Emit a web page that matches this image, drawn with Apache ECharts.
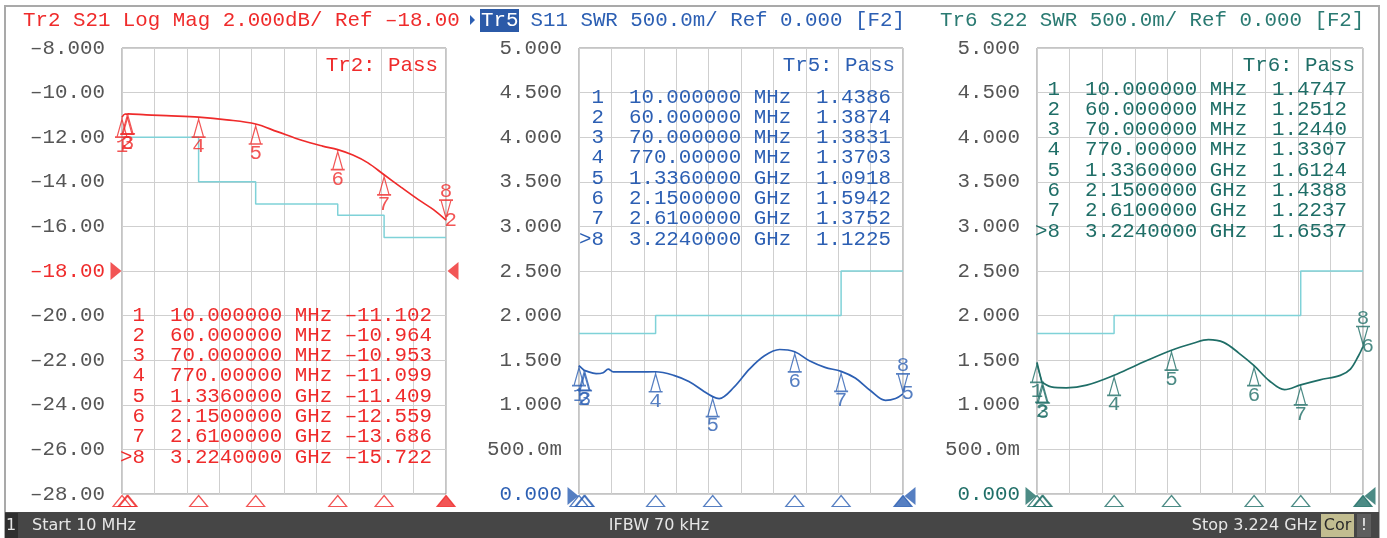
<!DOCTYPE html>
<html><head><meta charset="utf-8">
<script src="https://cdn.jsdelivr.net/npm/echarts@6/dist/echarts.min.js"></script>
<style>html,body{margin:0;padding:0;background:#fff;}#c{width:1387px;height:538px;}</style>
</head><body><div id="c"></div>
<script>
// ---------- DATA ----------
const FREQ_START = 10, FREQ_STOP = 3224; // MHz
const markerFreqs = [10, 60, 70, 770, 1336, 2150, 2610, 3224];
const s21MarkerVals = [-11.102, -10.964, -10.953, -11.099, -11.409, -12.559, -13.686, -15.722];
const s11MarkerVals = [1.4386, 1.3874, 1.3831, 1.3703, 1.0918, 1.5942, 1.3752, 1.1225];
const s22MarkerVals = [1.4747, 1.2512, 1.2440, 1.3307, 1.6124, 1.4388, 1.2237, 1.6537];

const s21Freqs = [10, 40, 60, 70, 250, 500, 770, 1050, 1336, 1550, 1800, 2000, 2150, 2300, 2450, 2610, 2780, 2950, 3100, 3224];
const s21Vals  = [-11.10, -10.96, -10.964, -10.953, -11.00, -11.04, -11.099, -11.22, -11.409, -11.75, -12.15, -12.40, -12.559, -12.80, -13.15, -13.686, -14.25, -14.80, -15.25, -15.722];

const s11Freqs = [10, 60, 70, 180, 250, 300, 350, 600, 770, 950, 1100, 1250, 1336, 1400, 1550, 1700, 1850, 2000, 2150, 2300, 2450, 2610, 2750, 2900, 3050, 3150, 3224];
const s11Vals  = [1.4386, 1.3874, 1.3831, 1.35, 1.36, 1.40, 1.37, 1.37, 1.3703, 1.33, 1.26, 1.15, 1.0918, 1.07, 1.20, 1.40, 1.55, 1.62, 1.5942, 1.49, 1.42, 1.3752, 1.30, 1.16, 1.05, 1.07, 1.1225];

const s22Freqs = [10, 60, 70, 150, 300, 500, 770, 1000, 1336, 1550, 1700, 1850, 2000, 2150, 2300, 2450, 2610, 2800, 3000, 3100, 3180, 3224];
const s22Vals  = [1.4747, 1.2512, 1.2440, 1.20, 1.19, 1.22, 1.3307, 1.45, 1.6124, 1.69, 1.73, 1.70, 1.58, 1.4388, 1.27, 1.17, 1.2237, 1.28, 1.33, 1.40, 1.55, 1.6537];

// limit lines: edges (MHz) and level between successive edges
const s21LimitEdges = [10, 770, 1336, 2150, 2610, 3224];
const s21LimitVals  = [-12, -14, -15, -15.5, -16.5];
const swrLimitEdges = [10, 770, 2610, 3224];
const swrLimitVals  = [1.8, 2.0, 2.5];

// tick labels (bottom to top)
const s21TickLabels = ['–28.00','–26.00','–24.00','–22.00','–20.00','–18.00','–16.00','–14.00','–12.00','–10.00','–8.000'];
const swrTickLabels = ['0.000','500.0m','1.000','1.500','2.000','2.500','3.000','3.500','4.000','4.500','5.000'];

const titles = ['Tr2 S21 Log Mag 2.000dB/ Ref –18.00', 'Tr5', ' S11 SWR 500.0m/ Ref 0.000 [F2]', 'Tr6 S22 SWR 500.0m/ Ref 0.000 [F2]'];
const passTexts = ['Tr2: Pass', 'Tr5: Pass', 'Tr6: Pass'];
const extraRightLabels = ['2', '5', '6'];
const statusTexts = ['1', 'Start 10 MHz', 'IFBW 70 kHz', 'Stop 3.224 GHz', 'Cor', '!'];

// ---------- LAYOUT / STYLE ----------
const RED = '#ef2b2b', BLUE = '#2c5fb3', TEAL = '#1f6e67', LIMIT = '#7fd2d8';
const FONT = '"Liberation Mono", "DejaVu Sans Mono", monospace';
const FS = 20.8;
const panels = [
  {left:122, width:324, color:RED, freqs:s21Freqs, vals:s21Vals, mvals:s21MarkerVals, edges:s21LimitEdges, lvals:s21LimitVals,
   min:-28, max:-8, interval:2, ticks:s21TickLabels, ref:-18, tableLeft:120, tableTop:315, valFmt:v=>(v<0?'–':' ')+Math.abs(v).toFixed(3)},
  {left:579, width:324, color:BLUE, freqs:s11Freqs, vals:s11Vals, mvals:s11MarkerVals, edges:swrLimitEdges, lvals:swrLimitVals,
   min:0, max:5, interval:0.5, ticks:swrTickLabels, ref:0, tableLeft:579, tableTop:97, valFmt:v=>' '+v.toFixed(4)},
  {left:1037, width:326, color:TEAL, freqs:s22Freqs, vals:s22Vals, mvals:s22MarkerVals, edges:swrLimitEdges, lvals:swrLimitVals,
   min:0, max:5, interval:0.5, ticks:swrTickLabels, ref:0, tableLeft:1035, tableTop:89, valFmt:v=>' '+v.toFixed(4)}
];
const TOP = 48, HEIGHT = 446;

function fmtFreq(f){ return f < 1000 ? f.toPrecision(8) + ' MHz' : (f/1000).toPrecision(8) + ' GHz'; }

const UP_TRI = 'path://M7,0 L7,4 M7,2 L12,19 L2,19 Z M0,19 L14,19';
const DOWN_TRI = 'path://M0,0 L14,0 M2,0 L12,0 L7,17 Z M7,15 L7,19';
const BOT_TRI = 'path://M9,0 L18,11 L0,11 Z';
const REF_R = 'path://M0,0 L11,9 L0,18 Z';
const REF_L = 'path://M11,0 L0,9 L11,18 Z';

const grid = [], xAxis = [], yAxis = [], series = [], graphic = [];

panels.forEach((p, i) => {
  grid.push({left:p.left, top:TOP, width:p.width, height:HEIGHT, show:true, borderColor:'#8a8a8a', borderWidth:1, backgroundColor:'#fff', containLabel:false});
  xAxis.push({gridIndex:i, type:'value', min:FREQ_START, max:FREQ_STOP, show:false});
  xAxis.push({gridIndex:i, type:'value', min:0, max:10, interval:1, axisLine:{show:false}, axisTick:{show:false}, axisLabel:{show:false},
    splitLine:{show:true, lineStyle:{color:'#cfcfcf', width:1}}});
  yAxis.push({gridIndex:i, type:'value', min:p.min, max:p.max, interval:p.interval,
    axisLine:{show:false}, axisTick:{show:false},
    splitLine:{show:true, lineStyle:{color:'#cfcfcf', width:1}},
    axisLabel:{margin:17, fontFamily:FONT, fontSize:FS,
      formatter:(v)=>p.ticks[Math.round((v - p.min)/p.interval)],
      color:(v)=> Math.abs(v - p.ref) < 1e-9 ? p.color : '#555555'}});
  const xi = 2*i;
  const lim = [];
  for (let k = 0; k < p.lvals.length; k++){ lim.push([p.edges[k], p.lvals[k]]); lim.push([p.edges[k+1], p.lvals[k]]); }
  series.push({type:'line', xAxisIndex:xi, yAxisIndex:i, data:lim, symbol:'none', silent:true, z:2,
    lineStyle:{color:LIMIT, width:1.5}});
  series.push({type:'line', xAxisIndex:xi, yAxisIndex:i, data:p.freqs.map((f,k)=>[f, p.vals[k]]), symbol:'none', smooth:0.35, silent:true, z:3,
    lineStyle:{color:p.color, width:1.7}});
  series.push({type:'scatter', xAxisIndex:xi, yAxisIndex:i, clip:false, silent:true, z:5,
    data:markerFreqs.slice(0,7).map((f,k)=>({value:[f, p.mvals[k]], lab:String(k+1)})),
    symbol:UP_TRI, symbolSize:[14,20], symbolOffset:[0,'50%'],
    itemStyle:{color:'rgba(0,0,0,0)', borderColor:p.color, borderWidth:1.4},
    label:{show:true, position:'bottom', distance:-2, formatter:(d)=>d.data.lab, color:p.color, fontFamily:FONT, fontSize:FS}});
  series.push({type:'scatter', xAxisIndex:xi, yAxisIndex:i, clip:false, silent:true, z:5,
    data:[{value:[markerFreqs[7], p.mvals[7]], lab:'8'}],
    symbol:DOWN_TRI, symbolSize:[14,20], symbolOffset:[0,'-50%'],
    itemStyle:{color:'rgba(0,0,0,0)', borderColor:p.color, borderWidth:1.4},
    label:{show:true, position:'top', distance:-3, formatter:(d)=>d.data.lab, color:p.color, fontFamily:FONT, fontSize:FS}});
  series.push({type:'scatter', xAxisIndex:xi, yAxisIndex:i, clip:false, silent:true, z:5,
    data:[{value:[markerFreqs[7], p.mvals[7]], lab:extraRightLabels[i]}], symbol:'rect', symbolSize:[1,1],
    itemStyle:{color:'rgba(0,0,0,0)'},
    label:{show:true, position:'right', distance:-2, formatter:(d)=>d.data.lab, color:p.color, fontFamily:FONT, fontSize:FS}});
  series.push({type:'scatter', xAxisIndex:xi, yAxisIndex:i, clip:false, silent:true, z:5,
    data:markerFreqs.map((f,k)=>({value:[f, p.min], itemStyle: k===7 ? {color:p.color} : undefined})),
    symbol:BOT_TRI, symbolSize:[18,11], symbolOffset:[0,7],
    itemStyle:{color:'rgba(0,0,0,0)', borderColor:p.color, borderWidth:1.2}});
  series.push({type:'scatter', xAxisIndex:xi, yAxisIndex:i, clip:false, silent:true, z:5,
    data:[{value:[FREQ_START, p.ref], symbol:REF_R, symbolOffset:[-6, i===0?0:2]},
          {value:[FREQ_STOP, p.ref], symbol:REF_L, symbolOffset:[7, i===0?0:2]}],
    symbolSize:[11,18], itemStyle:{color:p.color}});
  markerFreqs.forEach((f,k)=>{
    const num = k===7 ? '>8' : ' ' + (k+1);
    const line = num + '  ' + fmtFreq(f) + ' ' + p.valFmt(p.mvals[k]);
    graphic.push({type:'text', z:50, silent:true, style:{text:line, x:p.tableLeft, y:p.tableTop + k*20.3, font:FS+'px '+FONT, fill:p.color, verticalAlign:'middle', align:'left'}});
  });
  graphic.push({type:'text', z:50, silent:true, style:{text:passTexts[i], x:p.left + p.width - 8, y:65, font:FS+'px '+FONT, fill:p.color, verticalAlign:'middle', align:'right'}});
});

graphic.push({type:'text', z:50, style:{text:titles[0], x:23, y:20, font:FS+'px '+FONT, fill:RED, verticalAlign:'middle'}});
graphic.push({type:'polygon', z:50, shape:{points:[[470,15],[475,20],[470,25]]}, style:{fill:BLUE}});
graphic.push({type:'rect', z:49, shape:{x:480, y:9, width:39, height:23}, style:{fill:'#2b5aa8'}});
graphic.push({type:'text', z:50, style:{text:titles[1], x:481, y:20, font:FS+'px '+FONT, fill:'#fff', verticalAlign:'middle'}});
graphic.push({type:'text', z:50, style:{text:titles[2], x:518, y:20, font:FS+'px '+FONT, fill:BLUE, verticalAlign:'middle'}});
graphic.push({type:'text', z:50, style:{text:titles[3], x:940, y:20, font:FS+'px '+FONT, fill:'#2a7a72', verticalAlign:'middle'}});

graphic.push({type:'rect', z:1, shape:{x:5, y:6, width:1374, height:531}, style:{fill:'none', stroke:'#a9a9a9', lineWidth:2}});
graphic.push({type:'rect', z:60, shape:{x:5, y:512, width:1374, height:26}, style:{fill:'#464646'}});
graphic.push({type:'rect', z:61, shape:{x:5, y:513, width:13, height:25}, style:{fill:'#2f2f2f'}});
const SF = '16px "DejaVu Sans", "Noto Sans", sans-serif';
graphic.push({type:'text', z:62, style:{text:statusTexts[0], x:11, y:526, font:SF, fill:'#e6e6e6', align:'center', verticalAlign:'middle'}});
graphic.push({type:'text', z:62, style:{text:statusTexts[1], x:32, y:526, font:SF, fill:'#e6e6e6', verticalAlign:'middle'}});
graphic.push({type:'text', z:62, style:{text:statusTexts[2], x:659, y:526, font:SF, fill:'#e6e6e6', align:'center', verticalAlign:'middle'}});
graphic.push({type:'text', z:62, style:{text:statusTexts[3], x:1317, y:526, font:SF, fill:'#e6e6e6', align:'right', verticalAlign:'middle'}});
graphic.push({type:'rect', z:61, shape:{x:1321, y:514, width:33, height:23}, style:{fill:'#c2bd90'}});
graphic.push({type:'text', z:62, style:{text:statusTexts[4], x:1337.5, y:526, font:SF, fill:'#2a2a2a', align:'center', verticalAlign:'middle'}});
graphic.push({type:'rect', z:61, shape:{x:1357, y:514, width:14, height:23}, style:{fill:'#5e5e5e'}});
graphic.push({type:'text', z:62, style:{text:statusTexts[5], x:1364, y:526, font:SF, fill:'#f0f0f0', align:'center', verticalAlign:'middle'}});

const chart = echarts.init(document.getElementById('c'), null, {renderer:'canvas'});
chart.setOption({animation:false, backgroundColor:'#fff', grid, xAxis, yAxis, series, graphic});
</script></body></html>
